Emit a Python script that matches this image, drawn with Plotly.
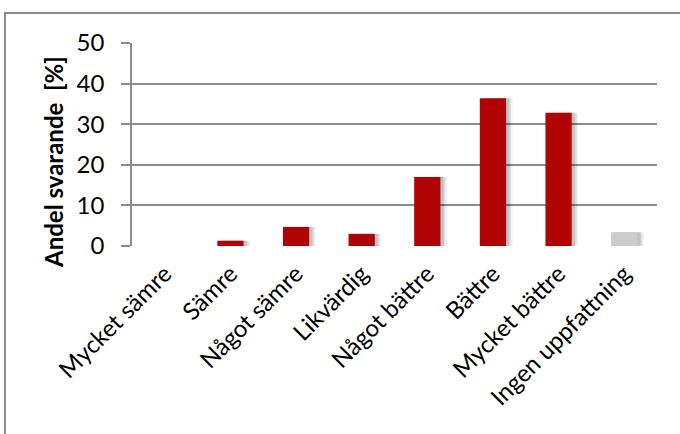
import plotly.graph_objects as go

categories = ["Mycket sämre", "Sämre", "Något sämre", "Likvärdig",
              "Något bättre", "Bättre", "Mycket bättre", "Ingen uppfattning"]
values = [0.0, 1.3, 4.7, 3.0, 17.0, 36.4, 32.8, 3.4]
bar_colors = ["#B00404"] * 7 + ["#CCCCCC"]
y_ticks = [0, 10, 20, 30, 40, 50]
y_title = "<b>Andel svarande  [%]</b>"

FONT = "Lato, 'Open Sans', sans-serif"
x_idx = list(range(len(categories)))

fig = go.Figure()

# soft drop shadow to the lower right of each bar
for shift, alpha in [(0.10, 0.05), (0.075, 0.08), (0.05, 0.12)]:
    fig.add_trace(go.Bar(
        x=x_idx, y=values, width=0.4, offset=-0.2 + shift,
        marker=dict(color=f"rgba(0,0,0,{alpha})", line=dict(width=0)),
        hoverinfo="skip", showlegend=False,
    ))

fig.add_trace(go.Bar(
    x=x_idx, y=values, width=0.4, offset=-0.2,
    marker=dict(color=bar_colors, line=dict(width=0)),
    showlegend=False,
))

fig.update_layout(
    width=680, height=434,
    margin=dict(l=132, r=23, t=43, b=188),
    paper_bgcolor="white", plot_bgcolor="white",
    barmode="overlay",
    font=dict(family=FONT, size=24, color="#000000"),
    xaxis=dict(
        tickmode="array", tickvals=x_idx, ticktext=categories,
        tickangle=-45, range=[-0.5, len(categories) - 0.5],
        showgrid=False, zeroline=False, showline=False, ticks="",
        ticklabelstandoff=8,
        tickfont=dict(size=24, color="#000000"),
    ),
    yaxis=dict(
        range=[0, 50], tickvals=y_ticks,
        showgrid=True, gridcolor="#8C8C8C", gridwidth=1.5,
        zeroline=False, showline=True, linecolor="#8C8C8C", linewidth=1.5,
        ticks="outside", ticklen=9, tickcolor="#8C8C8C", tickwidth=1.5,
        ticklabelstandoff=12,
        tickfont=dict(size=24, color="#000000"),
    ),
    annotations=[dict(
        text=y_title, textangle=-90, showarrow=False,
        xref="paper", yref="paper", x=-0.1486, y=0.414,
        xanchor="center", yanchor="middle",
        font=dict(size=24, color="#000000"),
    )],
    shapes=[dict(
        type="rect", xref="paper", yref="paper",
        x0=-0.2419, x1=1.06, y0=-0.97, y1=1.148,
        line=dict(color="#8A8A8A", width=2), fillcolor="rgba(0,0,0,0)",
        layer="below",
    )],
)

fig.write_html("out.html")
